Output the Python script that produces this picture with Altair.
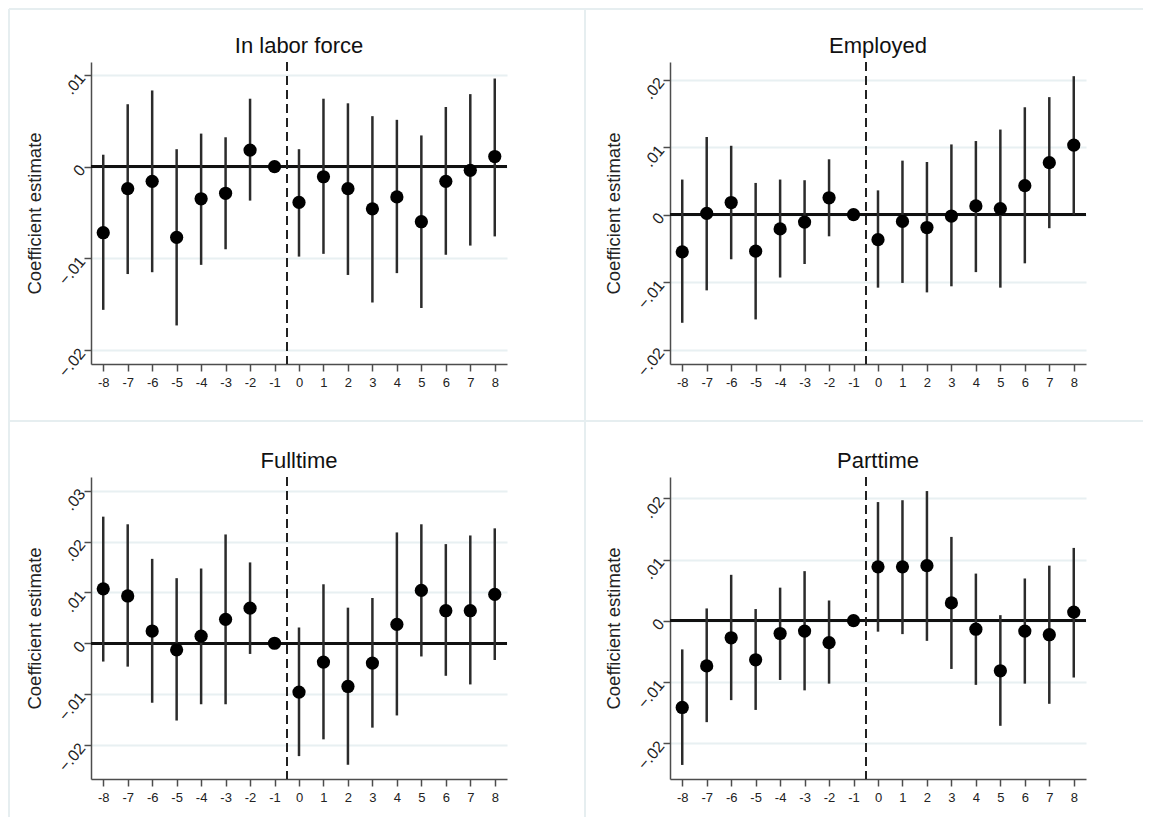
import altair as alt
import pandas as pd

# ---------------- data ----------------
periods = list(range(-8, 9))
event_x = -0.5

lf_coef = [-0.0072, -0.0024, -0.0016, -0.0077, -0.0035, -0.0029, 0.0018, 0.0, -0.0039, -0.0011, -0.0024, -0.0046, -0.0033, -0.0060, -0.0016, -0.0004, 0.0011]
lf_lo = [-0.0156, -0.0117, -0.0115, -0.0173, -0.0107, -0.0090, -0.0037, None, -0.0098, -0.0095, -0.0118, -0.0148, -0.0116, -0.0154, -0.0096, -0.0086, -0.0076]
lf_hi = [0.0013, 0.0068, 0.0083, 0.0019, 0.0036, 0.0032, 0.0074, None, 0.0019, 0.0074, 0.0069, 0.0055, 0.0051, 0.0034, 0.0065, 0.0079, 0.0096]

emp_coef = [-0.0055, 0.0002, 0.0018, -0.0054, -0.0021, -0.0011, 0.0025, 0.0, -0.0037, -0.0010, -0.0019, -0.0002, 0.0013, 0.0009, 0.0043, 0.0077, 0.0103]
emp_lo = [-0.0160, -0.0112, -0.0066, -0.0155, -0.0093, -0.0073, -0.0032, None, -0.0108, -0.0101, -0.0115, -0.0106, -0.0085, -0.0108, -0.0072, -0.0020, 0.0000]
emp_hi = [0.0052, 0.0115, 0.0102, 0.0047, 0.0052, 0.0051, 0.0082, None, 0.0036, 0.0080, 0.0078, 0.0104, 0.0109, 0.0126, 0.0159, 0.0174, 0.0205]

ft_coef = [0.0107, 0.0093, 0.0024, -0.0013, 0.0014, 0.0047, 0.0069, 0.0, -0.0096, -0.0037, -0.0085, -0.0039, 0.0037, 0.0104, 0.0064, 0.0064, 0.0096]
ft_lo = [-0.0036, -0.0046, -0.0117, -0.0152, -0.0120, -0.0120, -0.0021, None, -0.0222, -0.0189, -0.0239, -0.0166, -0.0142, -0.0026, -0.0064, -0.0081, -0.0033]
ft_hi = [0.0249, 0.0234, 0.0166, 0.0128, 0.0147, 0.0214, 0.0159, None, 0.0031, 0.0116, 0.0070, 0.0089, 0.0218, 0.0234, 0.0195, 0.0212, 0.0226]

pt_coef = [-0.0142, -0.0074, -0.0028, -0.0064, -0.0021, -0.0017, -0.0036, 0.0, 0.0088, 0.0088, 0.0090, 0.0029, -0.0014, -0.0082, -0.0017, -0.0023, 0.0014]
pt_lo = [-0.0236, -0.0166, -0.0130, -0.0146, -0.0097, -0.0114, -0.0103, None, -0.0018, -0.0022, -0.0033, -0.0079, -0.0105, -0.0172, -0.0103, -0.0136, -0.0093]
pt_hi = [-0.0047, 0.0020, 0.0075, 0.0019, 0.0054, 0.0081, 0.0033, None, 0.0194, 0.0197, 0.0212, 0.0137, 0.0077, 0.0009, 0.0069, 0.0090, 0.0119]

titles = ["In labor force", "Employed", "Fulltime", "Parttime"]
y_domains = [[-0.0215, 0.0114], [-0.0221, 0.0226], [-0.0267, 0.0327], [-0.0259, 0.0235]]
y_ticks = [[-0.02, -0.01, 0, 0.01],
           [-0.02, -0.01, 0, 0.01, 0.02],
           [-0.02, -0.01, 0, 0.01, 0.02, 0.03],
           [-0.02, -0.01, 0, 0.01, 0.02]]
y_title = "Coefficient estimate"

# ---------------- styling ----------------
W, H = 416, 302
FONT = "Liberation Sans"
AXIS_COL = "#4d4d4d"
GRID_COL = "#e8f0f2"
SEP_COL = "#e6eef0"


def panel(title, coef, lo, hi, ydom, yt, separators=False):
    df = pd.DataFrame({"period": periods, "coef": coef, "lo": lo, "hi": hi})
    xscale = alt.Scale(domain=[-8.5, 8.5], nice=False, zero=False)
    yscale = alt.Scale(domain=ydom, nice=False, zero=False)
    xaxis = alt.Axis(values=periods, labelExpr="'' + datum.value", title=None, grid=False,
                     domainColor=AXIS_COL, domainWidth=1.5, tickColor=AXIS_COL,
                     tickWidth=1.5, tickSize=7, labelFont=FONT, labelFontSize=13,
                     labelColor="#222", labelPadding=5, labelFlush=False,
                     labelOverlap=False)
    yaxis = alt.Axis(values=yt, title=y_title, grid=True, gridColor=GRID_COL, gridWidth=2,
                     labelExpr="datum.value == 0 ? '0' : replace(format(datum.value, '.2f'), '0.', '.')",
                     domainColor=AXIS_COL, domainWidth=1.5, tickColor=AXIS_COL,
                     tickWidth=1.5, tickSize=7, labelFont=FONT, labelFontSize=16,
                     labelColor="#222", labelAngle=310, labelAlign="right",
                     labelBaseline="middle", labelPadding=2, labelFlush=False,
                     labelOverlap=False,
                     minExtent=30, maxExtent=30, titlePadding=17,
                     titleFont=FONT, titleFontSize=18.5, titleFontWeight="normal",
                     titleColor="#222")
    base = alt.Chart(df)
    x = alt.X("period:Q", scale=xscale, axis=xaxis)
    zero = base.mark_rule(color="#111", strokeWidth=2).encode(
        y=alt.YDatum(0, scale=yscale, axis=yaxis))
    dash = base.mark_rule(color="#222", strokeWidth=1.5, strokeDash=[9, 5]).encode(
        x=alt.XDatum(event_x, scale=xscale, axis=xaxis))
    ci = base.mark_rule(color="#2b2b2b", strokeWidth=2.5).encode(
        x=x, y=alt.Y("lo:Q", scale=yscale, axis=yaxis), y2="hi:Q")
    pts = base.mark_circle(size=175, color="black", opacity=1).encode(
        x=x, y=alt.Y("coef:Q", scale=yscale, axis=yaxis))
    ttl = alt.Chart(pd.DataFrame({"t": [title]})).mark_text(
        font=FONT, fontSize=22, color="#111", align="center", baseline="alphabetic"
    ).encode(x=alt.value(W / 2), y=alt.value(-9), text="t:N")
    layers = [zero, ci, dash, pts, ttl]
    if separators:
        one = pd.DataFrame({"k": [0]})
        sep = alt.Chart(one).mark_rule(color=SEP_COL, strokeWidth=2)
        layers = [
            sep.encode(x=alt.value(-82), y=alt.value(-53), y2=alt.value(755)),
            sep.encode(x=alt.value(494), y=alt.value(-53), y2=alt.value(755)),
            sep.encode(x=alt.value(-82), x2=alt.value(1052), y=alt.value(-53)),
            sep.encode(x=alt.value(-82), x2=alt.value(1052), y=alt.value(359)),
        ] + layers
    return alt.layer(*layers).properties(width=W, height=H)


p1 = panel(titles[0], lf_coef, lf_lo, lf_hi, y_domains[0], y_ticks[0], separators=True)
p2 = panel(titles[1], emp_coef, emp_lo, emp_hi, y_domains[1], y_ticks[1])
p3 = panel(titles[2], ft_coef, ft_lo, ft_hi, y_domains[2], y_ticks[2])
p4 = panel(titles[3], pt_coef, pt_lo, pt_hi, y_domains[3], y_ticks[3])

chart = alt.concat(p1, p2, p3, p4, columns=2,
                   spacing={"row": 113, "column": 163},
                   bounds="flush").properties(padding=0, background="white"
).configure_view(strokeWidth=0)

chart.save("out.html", embed_options={"renderer": "svg", "actions": False})
